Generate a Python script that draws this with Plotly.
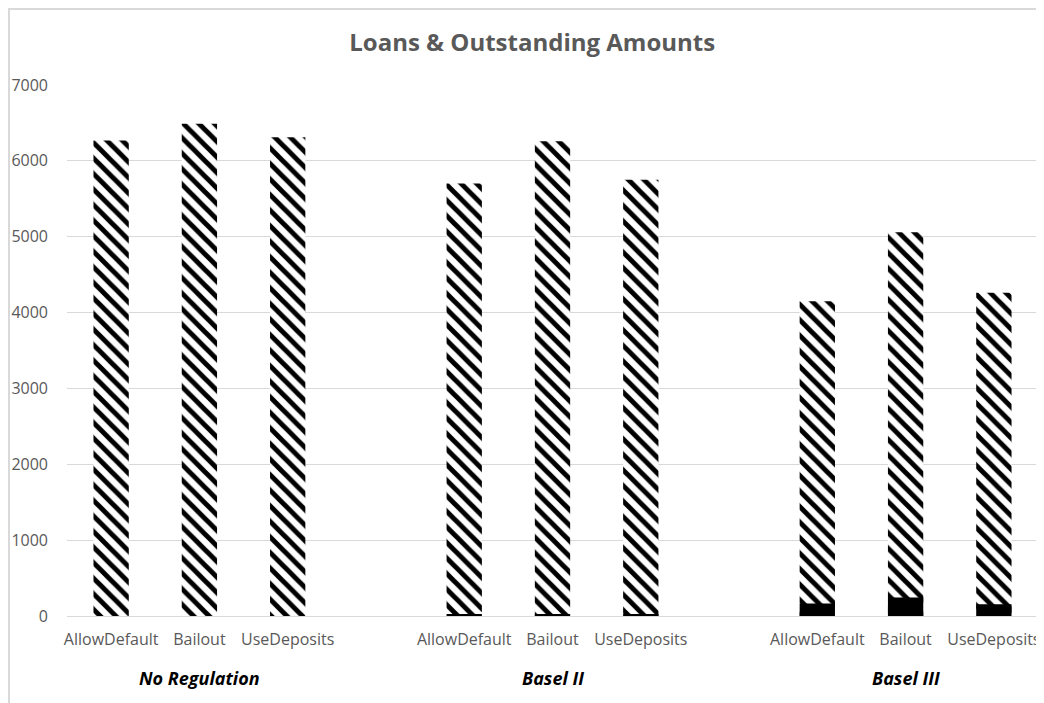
import plotly.graph_objects as go

groups = ["No Regulation", "Basel II", "Basel III"]
strategies = ["AllowDefault", "Bailout", "UseDeposits"]
loans = [
    [6270, 6490, 6310],
    [5700, 6260, 5750],
    [4150, 5060, 4260],
]
outstanding = [
    [0, 0, 0],
    [25, 20, 22],
    [165, 245, 155],
]
y_ticks = [0, 1000, 2000, 3000, 4000, 5000, 6000, 7000]

# slot positions: 3 bars per group plus one empty slot between groups
xs, loan_vals, out_vals, labels = [], [], [], []
for gi, g in enumerate(groups):
    for si, s in enumerate(strategies):
        xs.append(gi * 4 + si)
        loan_vals.append(loans[gi][si])
        out_vals.append(outstanding[gi][si])
        labels.append(s)
group_centers = [gi * 4 + 1 for gi in range(len(groups))]

fig = go.Figure()
fig.add_trace(go.Bar(
    x=xs, y=loan_vals, name="Loans", width=0.4,
    marker=dict(color="white", line=dict(width=0),
                pattern=dict(shape="\\", fgcolor="black", bgcolor="white",
                             size=11, solidity=0.45, fillmode="replace")),
))
fig.add_trace(go.Bar(
    x=xs, y=out_vals, name="Outstanding", width=0.4,
    marker=dict(color="black", line=dict(width=0)),
))

gray = "#595959"
fig.update_layout(
    barmode="overlay",
    width=1036, height=695,
    margin=dict(l=59, r=6, t=77, b=87, autoexpand=False),
    paper_bgcolor="white", plot_bgcolor="white",
    showlegend=False,
    title=dict(text="<b>Loans &amp; Outstanding Amounts</b>", x=0.506, xanchor="center",
               y=0.95, yanchor="middle",
               font=dict(family="Open Sans", size=24, color=gray)),
    xaxis=dict(range=[-0.5, 10.5], tickmode="array", tickvals=xs, ticktext=labels,
               showgrid=False, zeroline=False, showline=False, ticks="",
               ticklabelstandoff=12, automargin=False,
               tickfont=dict(family="Open Sans", size=16, color=gray)),
    yaxis=dict(range=[0, 7000], tickmode="array", tickvals=y_ticks,
               showgrid=True, gridcolor="#d9d9d9", gridwidth=1,
               zeroline=True, zerolinecolor="#d9d9d9", zerolinewidth=1,
               showline=False, ticks="", ticklabelstandoff=18, automargin=False,
               tickfont=dict(family="Open Sans", size=16, color=gray)),
)

for c, g in zip(group_centers, groups):
    fig.add_annotation(x=c, xref="x", y=-0.117, yref="paper", text=f"<b><i>{g}</i></b>",
                       showarrow=False, yanchor="middle", xanchor="center",
                       font=dict(family="Open Sans", size=18, color="black"))

# outer chart border (cropped at right and bottom)
fig.add_shape(type="rect", xref="paper", yref="paper",
              x0=(1 - 59) / 971, x1=1.2, y0=-0.4, y1=(608 - 1) / 531,
              line=dict(color="#d9d9d9", width=2), layer="below")

fig.write_html("out.html")
